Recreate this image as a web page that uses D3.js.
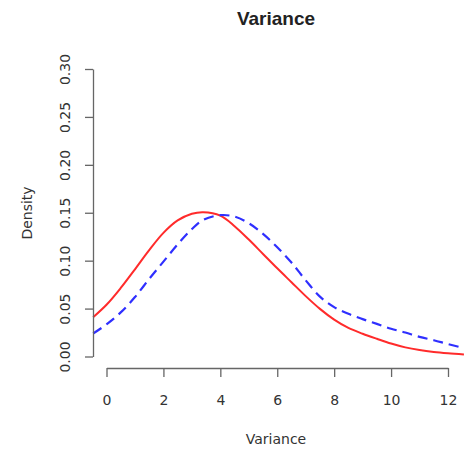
<!DOCTYPE html>
<html>
<head>
<meta charset="utf-8">
<script src="https://cdn.jsdelivr.net/npm/d3@7.9.0/dist/d3.min.js"></script>
<style>
  body { margin:0; background:#fff; }
  svg  { display:block; }
  .axis text { font-family:"DejaVu Sans",sans-serif; font-size:14px; fill:#333; }
  .axis path, .axis line { stroke:#666; stroke-width:1.3; }
</style>
</head>
<body>
<svg id="chart" width="464" height="455"></svg>
<script>
// values
const xs      = [-0.47, 0, 0.5, 1, 1.5, 2, 2.5, 3, 3.4, 4, 4.5, 5, 5.5, 6, 6.5, 7, 7.5, 8, 8.5, 9, 9.5, 10, 10.5, 11, 11.5, 12, 12.56];
const redVals = [0.041, 0.054, 0.0715, 0.091, 0.111, 0.129, 0.142, 0.149, 0.1506, 0.147, 0.136, 0.122, 0.107, 0.092, 0.0775, 0.063, 0.0497, 0.0385, 0.0298, 0.0238, 0.0185, 0.0135, 0.0095, 0.0067, 0.0047, 0.0033, 0.0021];
const bluVals = [0.024, 0.0335, 0.046, 0.062, 0.081, 0.099, 0.117, 0.133, 0.1425, 0.1475, 0.146, 0.139, 0.128, 0.114, 0.098, 0.0795, 0.0625, 0.0515, 0.0445, 0.039, 0.034, 0.029, 0.025, 0.0205, 0.017, 0.013, 0.0087];
const xTicks  = [0, 2, 4, 6, 8, 10, 12];
const yTicks  = [0, 0.05, 0.10, 0.15, 0.20, 0.25, 0.30];

const svg = d3.select('#chart');

const x = d3.scaleLinear().domain([0, 12]).range([106.5, 448]);
const y = d3.scaleLinear().domain([0, 0.3]).range([356.5, 69]);

const line = vals => d3.line()
  .x((d,i) => x(xs[i]))
  .y(d => y(d))
  .curve(d3.curveCatmullRom.alpha(0.5))(vals);

// curves
svg.append('path')
   .attr('d', line(redVals))
   .attr('fill','none').attr('stroke','#ff2b2b').attr('stroke-width',2);
svg.append('path')
   .attr('d', line(bluVals))
   .attr('fill','none').attr('stroke','#2f2fff').attr('stroke-width',2.2)
   .attr('stroke-dasharray','10,6');

// y axis
const gy = svg.append('g').attr('class','axis').attr('transform','translate(93,0)')
  .call(d3.axisLeft(y).tickValues(yTicks).tickSize(8).tickSizeOuter(0).tickFormat(d3.format('.2f')));
gy.selectAll('text')
  .attr('transform','rotate(-90)')
  .attr('x',0).attr('y',-23).attr('dy',0)
  .attr('text-anchor','middle');

// x axis
svg.append('g').attr('class','axis').attr('transform','translate(0,368)')
  .call(d3.axisBottom(x).tickValues(xTicks).tickSize(9).tickSizeOuter(0).tickPadding(18));

// titles
svg.append('text')
   .attr('x',276).attr('y',25).attr('text-anchor','middle')
   .style('font-family','"Liberation Sans",Arial,sans-serif').style('font-weight','bold')
   .style('font-size','19px').style('fill','#222')
   .text('Variance');
svg.append('text')
   .attr('x',276).attr('y',444).attr('text-anchor','middle')
   .style('font-family','"DejaVu Sans",sans-serif').style('font-size','14px').style('fill','#333')
   .text('Variance');
svg.append('text')
   .attr('transform','translate(32,213) rotate(-90)').attr('text-anchor','middle')
   .style('font-family','"DejaVu Sans",sans-serif').style('font-size','14px').style('fill','#333')
   .text('Density');
</script>
</body>
</html>
